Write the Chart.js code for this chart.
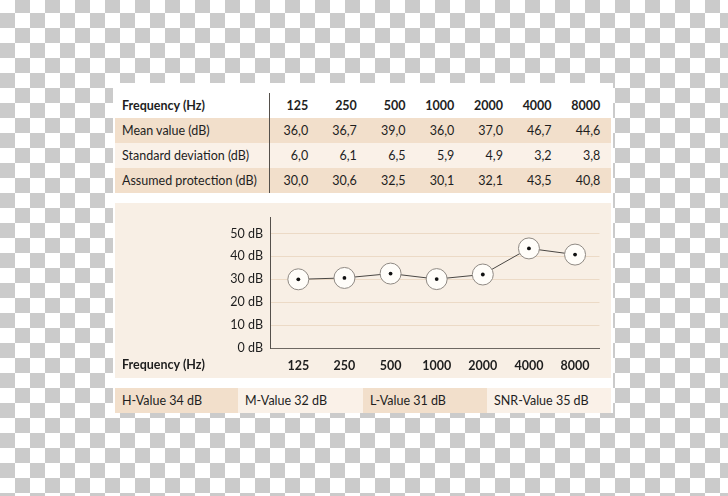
<!DOCTYPE html>
<html>
<head>
<meta charset="utf-8">
<script src="https://cdn.jsdelivr.net/npm/chart.js@4.4.0/dist/chart.umd.min.js"></script>
<style>
  html, body { margin: 0; padding: 0; }
  body {
    width: 728px; height: 496px; overflow: hidden; position: relative;
    background-color: #fff;
    background-image: conic-gradient(#cbcbcb 25%, #fff 0 50%, #cbcbcb 0 75%, #fff 0);
    background-size: 30px 30px;
    background-position: 0 -2px;
    font-family: Lato, "Open Sans", sans-serif;
    color: #1e1e1e;
  }
  #panel { position: absolute; left: 113px; top: 83px; width: 500px; height: 330px; background: #fff; }
  #table { position: absolute; left: 115px; top: 93px; width: 496px; }
  .row { display: grid; grid-template-columns: 155px repeat(7, 48.7px); height: 25px; line-height: 25px; font-size: 12.5px; }
  .row div { text-align: right; padding-right: 10.5px; white-space: nowrap; }
  .row div.lab { text-align: left; padding-left: 7px; padding-right: 0; border-right: 1px solid #55504b; }
  .row.head { font-weight: bold; }
  .row.dark { background: #f2dfcb; }
  .row.light { background: #faf1e8; }
  #chartBox { position: absolute; left: 115px; top: 203px; width: 496px; height: 175px; background: #f8efe5; }
  #xTitle { position: absolute; left: 122px; top: 357px; font-size: 12.5px; font-weight: bold; line-height: 16px; }
  #footer { position: absolute; left: 115px; top: 388px; width: 496px; height: 25px; display: flex; }
  #footer div { height: 25px; line-height: 25px; font-size: 12.5px; padding-left: 7px; box-sizing: border-box; }
</style>
</head>
<body>
<div id="panel"></div>
<div id="table"></div>
<div id="chartBox"><canvas id="chart" width="496" height="175"></canvas></div>
<div id="xTitle">Frequency (Hz)</div>
<div id="footer"></div>
<script>
const frequencies = ['125', '250', '500', '1000', '2000', '4000', '8000'];
const meanValues = [36.0, 36.7, 39.0, 36.0, 37.0, 46.7, 44.6];
const stdDeviation = [6.0, 6.1, 6.5, 5.9, 4.9, 3.2, 3.8];
const protection = [30.0, 30.6, 32.5, 30.1, 32.1, 43.5, 40.8];
const yTicks = [0, 10, 20, 30, 40, 50];
const summaryLabels = ['H-Value 34 dB', 'M-Value 32 dB', 'L-Value 31 dB', 'SNR-Value 35 dB'];

const fmt = v => v.toFixed(1).replace('.', ',');

// table above the chart
const table = document.getElementById('table');
function addRow(label, cells, cls) {
    const row = document.createElement('div');
    row.className = 'row ' + cls;
    let html = '<div class="lab">' + label + '</div>';
    cells.forEach(c => { html += '<div>' + c + '</div>'; });
    row.innerHTML = html;
    table.appendChild(row);
}
addRow('Frequency (Hz)', frequencies, 'head');
addRow('Mean value (dB)', meanValues.map(fmt), 'dark');
addRow('Standard deviation (dB)', stdDeviation.map(fmt), 'light');
addRow('Assumed protection (dB)', protection.map(fmt), 'dark');

// footer cells
const footer = document.getElementById('footer');
const footerWidths = [123, 125, 124, 124];
const footerColors = ['#f2dfcb', '#faf1e8', '#f2dfcb', '#faf1e8'];
summaryLabels.forEach((t, i) => {
    const d = document.createElement('div');
    d.textContent = t;
    d.style.width = footerWidths[i] + 'px';
    d.style.background = footerColors[i];
    footer.appendChild(d);
});

const points = protection.map((v, i) => ({ x: i, y: v }));
const tickFont = { family: 'Lato', size: 12.5 };

var ctx = document.getElementById('chart').getContext('2d');
var chart = new Chart(ctx, {
    type: 'line',
    data: {
        datasets: [{
            data: points,
            order: 2,
            borderColor: '#4a4744',
            borderWidth: 1,
            pointRadius: 10.5,
            pointHoverRadius: 10.5,
            pointBackgroundColor: '#fffdf9',
            pointBorderColor: '#8f8983',
            pointBorderWidth: 1
        }, {
            // centre dot of each marker
            data: points,
            order: 1,
            showLine: false,
            pointRadius: 1.9,
            pointHoverRadius: 1.9,
            pointBackgroundColor: '#111',
            pointBorderWidth: 0
        }]
    },
    options: {
        animation: false,
        responsive: false,
        layout: { padding: { top: 2, left: 0, right: 0, bottom: 0 } },
        plugins: { legend: { display: false }, tooltip: { enabled: false } },
        scales: {
            x: {
                type: 'linear',
                min: -0.614,
                max: 6.53,
                grid: { display: false, drawTicks: false },
                border: { display: true, color: '#6e6862' },
                ticks: {
                    font: { family: 'Lato', size: 12.5, weight: 'bold' },
                    color: '#1e1e1e',
                    padding: 10,
                    callback: v => frequencies[v]
                },
                afterBuildTicks: s => { s.ticks = frequencies.map((f, i) => ({ value: i })); },
                afterFit: s => { s.height = 30; }
            },
            y: {
                min: 0,
                max: 57,
                grid: { color: '#ecdac6', drawTicks: false },
                border: { color: '#55504b' },
                ticks: {
                    font: tickFont,
                    color: '#1e1e1e',
                    padding: 7,
                    callback: v => v + ' dB'
                },
                afterBuildTicks: s => { s.ticks = yTicks.map(v => ({ value: v })); },
                afterFit: s => { s.width = 155; }
            }
        }
    }
});
</script>
</body>
</html>
